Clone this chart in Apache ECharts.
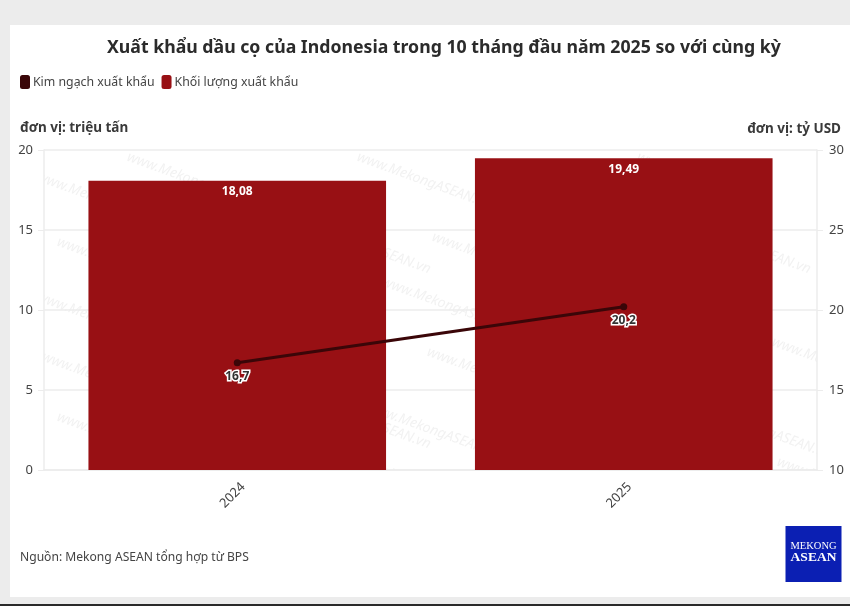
<!DOCTYPE html>
<html>
<head>
<meta charset="utf-8">
<style>html,body{margin:0;padding:0;background:#ececec}#main{width:850px;height:606px}</style>
<script src="https://cdn.jsdelivr.net/npm/echarts@6/dist/echarts.min.js"></script>
</head>
<body>
<div id="main"></div>
<script>
var years = ['2024', '2025'];
var khoiLuong = [18.08, 19.49];
var kimNgach = [16.7, 20.2];
var watermarkText = 'www.MekongASEAN.vn';
// where the faint watermark repeats behind the plot
var watermarkSpots = [[130,150],[40,170],[360,150],[640,150],[60,235],[300,215],[435,230],[680,215],[40,290],[385,275],[600,275],[45,350],[300,390],[430,345],[775,335],[60,410],[370,400],[560,360],[700,400],[360,455],[780,455]];

var font = '"Noto Sans", sans-serif';
var gridCol = '#ececec';

function comma(v) {
    return String(v).replace('.', ',');
}

var chart = echarts.init(document.getElementById('main'));

var marks = [
    { type: 'rect', z: -10, shape: { x: 10, y: 25, width: 840, height: 572 }, style: { fill: '#ffffff' } },
    { type: 'rect', z: -10, shape: { x: 0, y: 604, width: 850, height: 2 }, style: { fill: '#2a2a2a' } }
];
watermarkSpots.forEach(function (p) {
    marks.push({
        type: 'text', z: -9, x: p[0], y: p[1], rotation: -20 * Math.PI / 180,
        style: { text: watermarkText, fill: '#f2f2f2', font: 'italic 14px ' + font }
    });
});
// white strips so the watermark stops at the plot edge
marks.push({ type: 'rect', z: -8, shape: { x: 10, y: 25, width: 840, height: 125 }, style: { fill: '#ffffff' } });
marks.push({ type: 'rect', z: -8, shape: { x: 10, y: 470, width: 840, height: 127 }, style: { fill: '#ffffff' } });
marks.push({ type: 'rect', z: -8, shape: { x: 10, y: 25, width: 34, height: 572 }, style: { fill: '#ffffff' } });
marks.push({ type: 'rect', z: -8, shape: { x: 817, y: 25, width: 33, height: 572 }, style: { fill: '#ffffff' } });
// logo
marks.push({ type: 'rect', z: 5, shape: { x: 785.5, y: 526, width: 56, height: 56 }, style: { fill: '#0b1fb3' } });
marks.push({ type: 'text', z: 6, x: 813.5, y: 546, style: { text: 'MEKONG', fill: '#fff', font: '10.5px "Liberation Serif", serif', align: 'center', verticalAlign: 'middle' } });
marks.push({ type: 'text', z: 6, x: 813.5, y: 558, style: { text: 'ASEAN', fill: '#fff', font: 'bold 13.5px "Liberation Serif", serif', align: 'center', verticalAlign: 'middle' } });

var titleFont = { fontSize: 13.5, fontWeight: 'bold', color: '#3a3a3a', fontFamily: font };

var option = {
    backgroundColor: '#ececec',
    animation: false,
    textStyle: { fontFamily: font },
    title: [
        { text: 'Xuất khẩu dầu cọ của Indonesia trong 10 tháng đầu năm 2025 so với cùng kỳ', left: 107, top: 39, padding: 0,
          textStyle: { fontSize: 17.7, fontWeight: 'bold', color: '#2b2b2b', fontFamily: font } },
        { text: 'đơn vị: triệu tấn', left: 20, top: 121, padding: 0, textStyle: titleFont },
        { text: 'đơn vị: tỷ USD', right: 9, top: 122, padding: 0, textStyle: titleFont },
        { text: 'Nguồn: Mekong ASEAN tổng hợp từ BPS', left: 20, top: 552, padding: 0, textStyle: { fontSize: 12.1, fontWeight: 'normal', color: '#444', fontFamily: font } }
    ],
    legend: {
        left: 20, top: 75, padding: 0, itemWidth: 10, itemHeight: 14, itemGap: 7,
        icon: 'roundRect',
        data: ['Kim ngạch xuất khẩu', 'Khối lượng xuất khẩu'],
        textStyle: { fontSize: 12.3, color: '#444', padding: [0, 0, 0, -2] }
    },
    grid: { left: 44, right: 33, top: 150, bottom: 136 },
    xAxis: {
        type: 'category',
        data: years,
        axisLine: { lineStyle: { color: gridCol, width: 1.5 } },
        axisTick: { alignWithLabel: true, lineStyle: { color: gridCol } },
        axisLabel: { rotate: 45, fontSize: 13, color: '#444', margin: 30, align: 'center', verticalAlign: 'bottom' }
    },
    yAxis: [
        { type: 'value', min: 0, max: 20, interval: 5,
          axisLine: { show: true, lineStyle: { color: gridCol, width: 1.5 } },
          axisTick: { show: true, length: 6, lineStyle: { color: gridCol } },
          splitLine: { lineStyle: { color: gridCol, width: 1.5 } },
          axisLabel: { fontSize: 13, color: '#444', margin: 11 } },
        { type: 'value', min: 10, max: 30, interval: 5,
          axisLine: { show: true, lineStyle: { color: gridCol, width: 1.5 } },
          axisTick: { show: true, length: 6, lineStyle: { color: gridCol } },
          splitLine: { show: false },
          axisLabel: { fontSize: 13, color: '#444', margin: 12 } }
    ],
    series: [
        { name: 'Khối lượng xuất khẩu', type: 'bar', data: khoiLuong, yAxisIndex: 0, barCategoryGap: '23%',
          itemStyle: { color: '#981014' },
          label: { show: true, position: 'insideTop', distance: 5, color: '#fff', fontSize: 12, fontWeight: 'bold',
                   formatter: function (p) { return comma(p.value); } } },
        { name: 'Kim ngạch xuất khẩu', type: 'line', data: kimNgach, yAxisIndex: 1, z: 5,
          symbol: 'circle', symbolSize: 7,
          lineStyle: { color: '#3a0608', width: 3 }, itemStyle: { color: '#3a0608' },
          label: { show: true, position: 'bottom', distance: 4, color: '#333', fontSize: 12, fontWeight: 'bold',
                   textBorderColor: '#fff', textBorderWidth: 3,
                   formatter: function (p) { return comma(p.value); } } }
    ],
    graphic: { elements: marks }
};
chart.setOption(option);
</script>
</body>
</html>
